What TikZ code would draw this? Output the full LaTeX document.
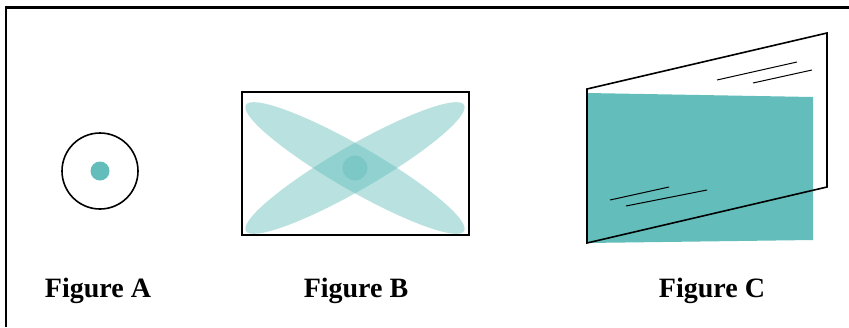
\documentclass[tikz,border=0pt]{standalone}
\usepackage{fontspec}
\setmainfont{Liberation Serif}
\usetikzlibrary{positioning}

\definecolor{lensteal}{HTML}{62BDBB}

\tikzset{
  outline/.style={draw=black, line width=1.6pt},
  beam/.style={fill=lensteal, fill opacity=0.45},
  caption/.style={font=\fontsize{28}{30}\selectfont\bfseries, inner sep=0pt}
}

\begin{document}
\begin{tikzpicture}[x=1pt, y=-1pt]
 \useasboundingbox (0,0) rectangle (849,327);
 % frame
 \draw[line width=2pt] (6,327) -- (6,7);
 \draw[line width=3pt] (5,7) -- (849,7);

 % Figure A
 \node[outline, circle, minimum size=76pt, inner sep=0pt] (ringA) at (100,171) {};
 \node[circle, fill=lensteal, minimum size=19pt, inner sep=0pt] (dotA) at (ringA.center) {};
 \node[caption] (capA) at (98,291) {Figure A};

 % Figure B
 \coordinate (midB) at (355,168);
 \fill[beam, rotate around={-30:(midB)}] (midB) ellipse [x radius=126pt, y radius=22pt];
 \fill[beam, rotate around={30:(midB)}] (midB) ellipse [x radius=126pt, y radius=22pt];
 \fill[beam] (midB) circle [radius=12.5pt];
 \draw[outline] (242,92) rectangle (469,235);
 \node[caption] (capB) at (356,291) {Figure B};

 % Figure C
 \coordinate (c1) at (587,89);
 \coordinate (c2) at (827,33);
 \coordinate (c3) at (827,187);
 \coordinate (c4) at (587,243);
 \fill[lensteal] (587,93) -- (813,97) -- (813,240) -- (587,243) -- cycle;
 \draw[line width=1pt] (717,80) -- (797,62);
 \draw[line width=1pt] (753,83) -- (812,70);
 \draw[line width=1pt] (610,200) -- (669,187);
 \draw[line width=1pt] (626,206) -- (707,190);
 \draw[outline, line join=miter] (c1) -- (c2) -- (c3) -- (c4) -- cycle;
 \node[caption] (capC) at (712,291) {Figure C};
\end{tikzpicture}
\end{document}
